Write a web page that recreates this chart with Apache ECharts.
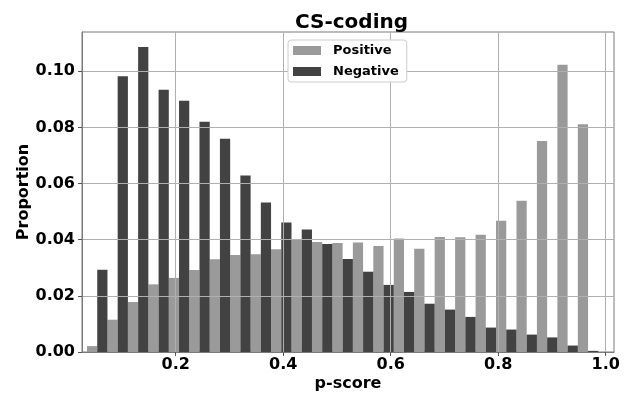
<!DOCTYPE html>
<html>
<head>
<meta charset="utf-8">
<script src="https://cdn.jsdelivr.net/npm/echarts@6/dist/echarts.min.js"></script>
<style>
  html, body { margin: 0; padding: 0; background: #fff; }
  #main { width: 629px; height: 394px; }
</style>
</head>
<body>
<div id="main"></div>
<script>
// histogram bins (p-score), 25 equal bins
var binStart = 0.0349;
var binWidth = 0.03805;

var positive = [0.0021, 0.0115, 0.0178, 0.0241, 0.0264, 0.0292, 0.0330, 0.0346, 0.0348, 0.0366,
                0.0401, 0.0392, 0.0388, 0.0390, 0.0378, 0.0404, 0.0368, 0.0410, 0.0409, 0.0418,
                0.0468, 0.0539, 0.0752, 0.1023, 0.0811];
var negative = [0.0293, 0.0982, 0.1087, 0.0934, 0.0895, 0.0820, 0.0760, 0.0629, 0.0533, 0.0461,
                0.0436, 0.0385, 0.0331, 0.0286, 0.0239, 0.0214, 0.0172, 0.0151, 0.0125, 0.0087,
                0.0080, 0.0062, 0.0052, 0.0023, 0.0004];

var xTicks = [0.2, 0.4, 0.6, 0.8, 1.0];
var yTicks = [0, 0.02, 0.04, 0.06, 0.08, 0.10];

var font = 'DejaVu Sans';

// each bin is split in two halves: left = Positive, right = Negative
function toBars(values, half) {
    return values.map(function (v, i) {
        var s = binStart + i * binWidth + half * binWidth / 2;
        return [s, s + binWidth / 2, v];
    });
}

function renderItem(params, api) {
    var p0 = api.coord([api.value(0), api.value(2)]);
    var p1 = api.coord([api.value(1), 0]);
    return {
        type: 'rect',
        shape: { x: p0[0], y: p0[1], width: p1[0] - p0[0], height: p1[1] - p0[1] },
        style: { fill: api.visual('color') }
    };
}

var chart = echarts.init(document.getElementById('main'));

var option = {
    animation: false,
    title: {
        text: 'CS-coding',
        left: 290,
        top: 8,
        textStyle: { fontFamily: font, fontWeight: 'bold', fontSize: 20, color: '#000' }
    },
    legend: {
        orient: 'vertical',
        left: 288,
        top: 40,
        itemWidth: 28,
        itemHeight: 9,
        itemGap: 8,
        padding: [4, 8, 4, 5],
        backgroundColor: '#fff',
        borderColor: '#cccccc',
        borderWidth: 1,
        borderRadius: 3,
        textStyle: { fontFamily: font, fontWeight: 'bold', fontSize: 13, color: '#000', padding: [0, 0, 0, 7] },
        data: [{ name: 'Positive', icon: 'rect' }, { name: 'Negative', icon: 'rect' }]
    },
    grid: {
        left: 82, right: 15, top: 32, bottom: 42,
        outerBoundsMode: 'none',
        show: true, borderColor: '#7a7a7a', borderWidth: 1
    },
    xAxis: {
        type: 'value',
        min: 0.0256,
        max: 1.0154,
        z: 3,
        name: 'p-score',
        nameLocation: 'middle',
        nameGap: 24,
        nameMoveOverlap: false,
        nameTextStyle: { fontFamily: font, fontWeight: 'bold', fontSize: 16, color: '#000' },
        axisLine: { show: true, lineStyle: { color: '#7a7a7a' } },
        axisTick: { show: true, length: 4, customValues: xTicks, lineStyle: { color: '#555' } },
        axisLabel: {
            customValues: xTicks, margin: 5,
            fontFamily: font, fontWeight: 'bold', fontSize: 16, color: '#000',
            formatter: function (v) { return v.toFixed(1); }
        },
        splitLine: { show: true, lineStyle: { color: '#b0b0b0', width: 1 } }
    },
    yAxis: {
        type: 'value',
        min: 0,
        max: 0.114,
        z: 3,
        name: 'Proportion',
        nameLocation: 'middle',
        nameGap: 50,
        nameMoveOverlap: false,
        nameTextStyle: { fontFamily: font, fontWeight: 'bold', fontSize: 16, color: '#000' },
        axisLine: { show: true, lineStyle: { color: '#7a7a7a' } },
        axisTick: { show: true, length: 4, customValues: yTicks, lineStyle: { color: '#555' } },
        axisLabel: {
            customValues: yTicks, margin: 7,
            fontFamily: font, fontWeight: 'bold', fontSize: 16, color: '#000',
            formatter: function (v) { return v.toFixed(2); }
        },
        splitLine: { show: true, lineStyle: { color: '#b0b0b0', width: 1 } }
    },
    series: [
        {
            name: 'Positive',
            type: 'custom',
            renderItem: renderItem,
            itemStyle: { color: '#9a9a9a' },
            encode: { x: [0, 1], y: 2 },
            data: toBars(positive, 0)
        },
        {
            name: 'Negative',
            type: 'custom',
            renderItem: renderItem,
            itemStyle: { color: '#424242' },
            encode: { x: [0, 1], y: 2 },
            data: toBars(negative, 1)
        }
    ]
};

chart.setOption(option);
</script>
</body>
</html>
